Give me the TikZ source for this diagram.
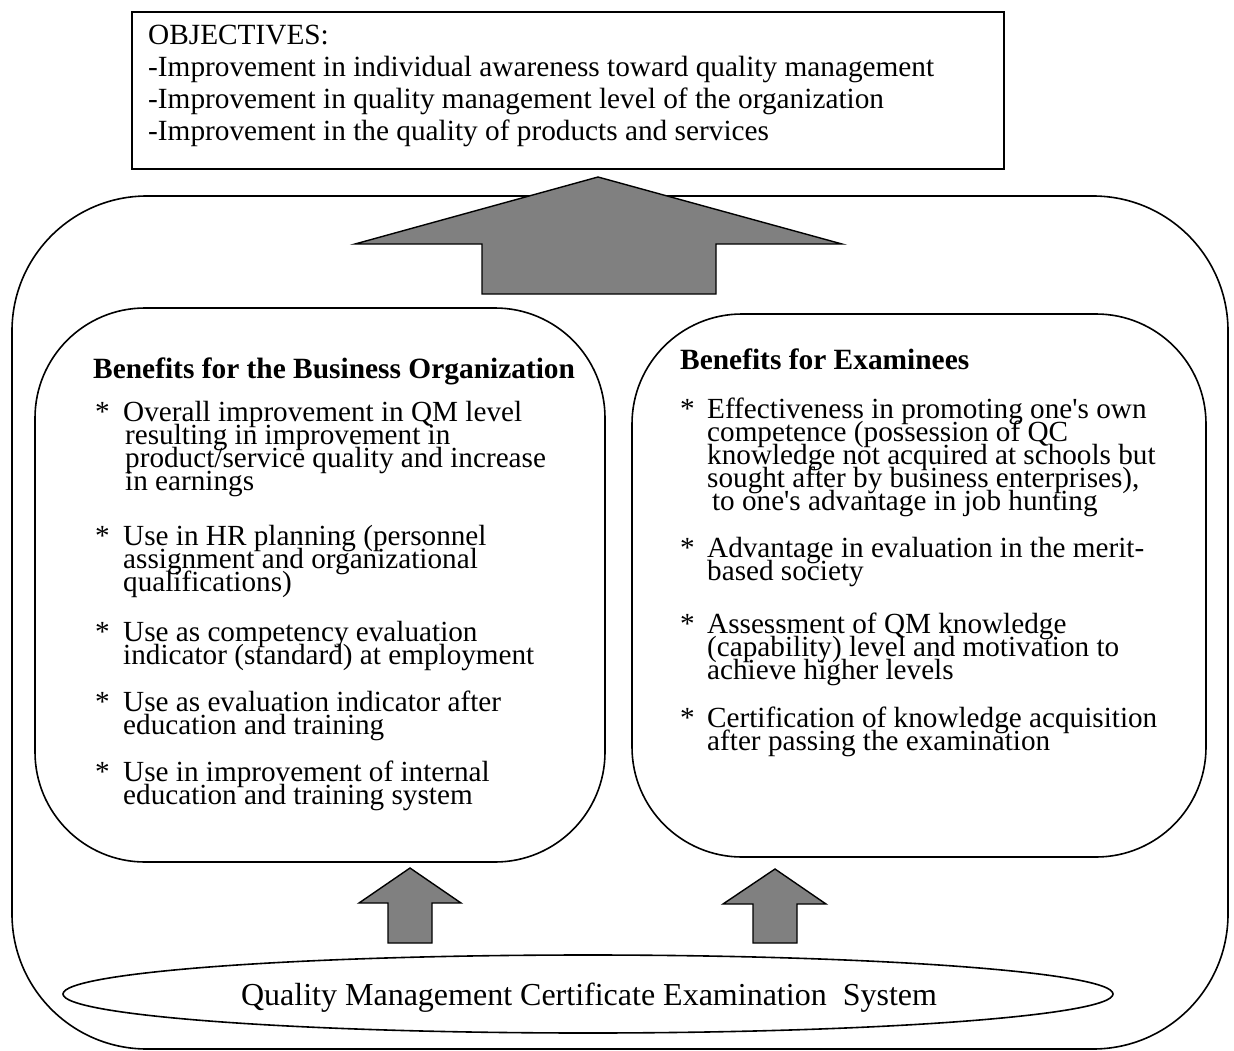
\documentclass[tikz,border=0pt]{standalone}
\usepackage{fontspec}
\setmainfont{Liberation Serif}
\newcommand\mylines[1]{\vtop{\lineskiplimit=-1000pt\lineskip=0pt\relax #1}}
\newcommand\apo{\textquotesingle}
\tikzset{
  x=1pt, y=-1pt,
  outline/.style={draw, line width=1.6pt},
  bigarrow/.style={draw, fill=gray, line width=1.4pt, line join=miter},
  objtxt/.style={anchor=base west, inner sep=0pt, font=\fontsize{29.3}{31.8}\selectfont},
  headtxt/.style={anchor=base west, inner sep=0pt, font=\fontsize{29.4}{32}\selectfont\bfseries},
  itemtxt/.style={anchor=base west, inner sep=0pt, font=\fontsize{29.2}{23.1}\selectfont},
  star/.style={anchor=base west, inner sep=0pt, font=\fontsize{29.2}{23.1}\selectfont},
  systxt/.style={anchor=base, inner sep=0pt, font=\fontsize{32}{36}\selectfont},
}
\begin{document}
\begin{tikzpicture}
\useasboundingbox (0,0) rectangle (1234,1051);
% boxes
\draw[outline] (132,12) rectangle (1004,169);
\draw[outline, rounded corners=135pt] (12,196) rectangle (1228,1049);
\draw[outline, rounded corners=110pt] (35,308) rectangle (605,862);
\draw[outline, rounded corners=110pt] (632,314) rectangle (1206,857);
\draw[outline] (588,994) ellipse [x radius=525, y radius=39];
% arrows
\draw[bigarrow] (598,177) -- (842,244) -- (716,244) -- (716,294) -- (482,294) -- (482,244) -- (355,244) -- cycle;
\draw[bigarrow] (410,868) -- (461,903) -- (432,903) -- (432,943) -- (388,943) -- (388,903) -- (359,903) -- cycle;
\draw[bigarrow] (775,869) -- (826,904) -- (797,904) -- (797,943) -- (753,943) -- (753,904) -- (723,904) -- cycle;
% objectives
\node[objtxt] (obj) at (148,45) {\mylines{\hbox{OBJECTIVES:}\hbox{-Improvement in individual awareness toward quality management}\hbox{-Improvement in quality management level of the organization}\hbox{-Improvement in the quality of products and services}}};
% left box
\node[headtxt] (lhead) at (93,378) {Benefits for the Business Organization};
\node[star] (ls1) at (95,421) {*};
\node[itemtxt] (li1) at (123,421) {\mylines{\hbox{Overall improvement in QM level}\hbox{\hspace{2pt}resulting in improvement in}\hbox{\hspace{2pt}product/service quality and increase}\hbox{\hspace{2pt}in earnings}}};
\node[star] (ls2) at (95,545) {*};
\node[itemtxt] (li2) at (123,545) {\mylines{\hbox{Use in HR planning (personnel}\hbox{assignment and organizational}\hbox{qualifications)}}};
\node[star] (ls3) at (95,641) {*};
\node[itemtxt] (li3) at (123,641) {\mylines{\hbox{Use as competency evaluation}\hbox{indicator (standard) at employment}}};
\node[star] (ls4) at (95,711) {*};
\node[itemtxt] (li4) at (123,711) {\mylines{\hbox{Use as evaluation indicator after}\hbox{education and training}}};
\node[star] (ls5) at (95,781) {*};
\node[itemtxt] (li5) at (123,781) {\mylines{\hbox{Use in improvement of internal}\hbox{education and training system}}};
% right box
\node[headtxt] (rhead) at (680,369) {Benefits for Examinees};
\node[star] (rs1) at (680,418) {*};
\node[itemtxt] (ri1) at (707,418) {\mylines{\hbox{Effectiveness in promoting one\apo s own}\hbox{competence (possession of QC}\hbox{knowledge not acquired at schools but}\hbox{sought after by business enterprises),}\hbox{\,to one\apo s advantage in job hunting}}};
\node[star] (rs2) at (680,557) {*};
\node[itemtxt] (ri2) at (707,557) {\mylines{\hbox{Advantage in evaluation in the merit-}\hbox{based society}}};
\node[star] (rs3) at (680,633) {*};
\node[itemtxt] (ri3) at (707,633) {\mylines{\hbox{Assessment of QM knowledge}\hbox{(capability) level and motivation to}\hbox{achieve higher levels}}};
\node[star] (rs4) at (680,727) {*};
\node[itemtxt] (ri4) at (707,727) {\mylines{\hbox{Certification of knowledge acquisition}\hbox{after passing the examination}}};
% system
\node[systxt] (sys) at (589,1005) {Quality Management Certificate Examination\ \ System};
\end{tikzpicture}
\end{document}
